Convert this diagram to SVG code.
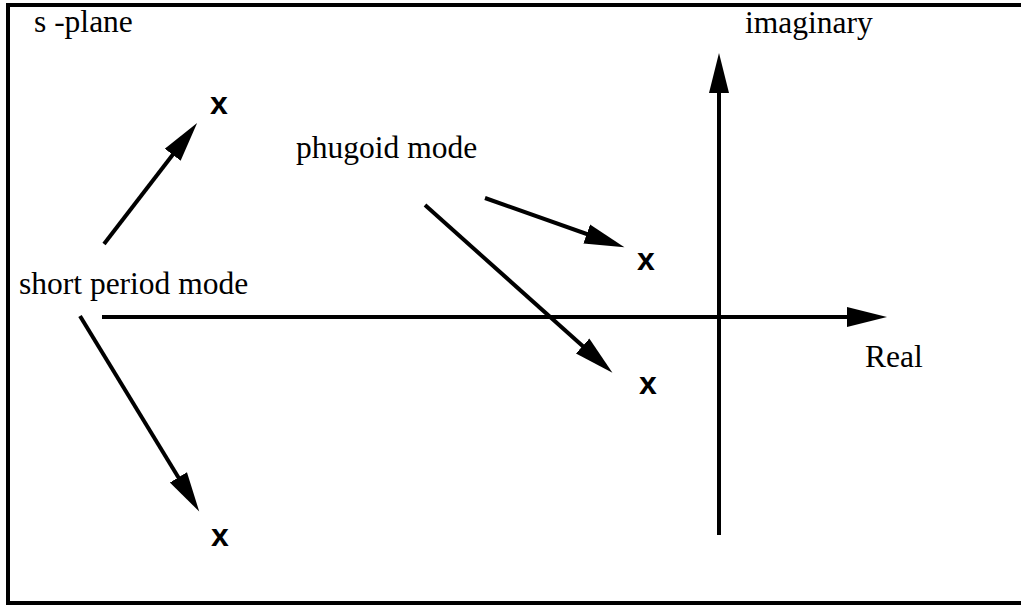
<svg xmlns="http://www.w3.org/2000/svg" width="1021" height="605" viewBox="0 0 1021 605">
  <style>
    .label { font-family: "Liberation Serif", "Times New Roman", serif; font-size: 31.5px; fill: #000; }
    .pole { font-family: "Liberation Sans", Arial, sans-serif; font-size: 32px; font-weight: bold; fill: #000; text-anchor: middle; }
    .conn { stroke: #000; stroke-width: 4; fill: none; marker-end: url(#head); }
  </style>
  <defs>
    <marker id="head" markerUnits="userSpaceOnUse" markerWidth="44" markerHeight="24" viewBox="0 -12 44 24" refX="30" refY="0" orient="auto">
      <path d="M0,-10 L40,0 L0,10 Z" fill="#000"/>
    </marker>
  </defs>
  <rect width="1021" height="605" fill="#fff"/>
  <!-- frame -->
  <rect x="8" y="5" width="1030" height="598" fill="none" stroke="#000" stroke-width="4"/>

  <!-- labels -->
  <g id="s-plane"><text class="label" x="34" y="32">s -plane</text></g>
  <g id="imaginary"><text class="label" x="745" y="33">imaginary</text></g>
  <g id="real"><text class="label" x="865" y="367">Real</text></g>
  <g id="short-period"><text class="label" x="19" y="294">short period mode</text></g>
  <g id="phugoid"><text class="label" x="296" y="158">phugoid mode</text></g>

  <!-- poles -->
  <g id="pole-sp-upper"><text class="pole" x="219" y="114">x</text></g>
  <g id="pole-sp-lower"><text class="pole" x="220" y="546">x</text></g>
  <g id="pole-ph-upper"><text class="pole" x="646" y="270">x</text></g>
  <g id="pole-ph-lower"><text class="pole" x="648" y="394">x</text></g>

  <!-- axes and pointers -->
  <g id="connectors">
    <line class="conn" x1="102" y1="317" x2="877" y2="317"/>
    <line class="conn" x1="719" y1="535" x2="719" y2="63"/>
    <line class="conn" x1="104" y1="244" x2="191" y2="131"/>
    <line class="conn" x1="80" y1="316" x2="194" y2="503"/>
    <line class="conn" x1="485" y1="198" x2="615" y2="244"/>
    <line class="conn" x1="425" y1="205" x2="605" y2="366"/>
  </g>
</svg>
